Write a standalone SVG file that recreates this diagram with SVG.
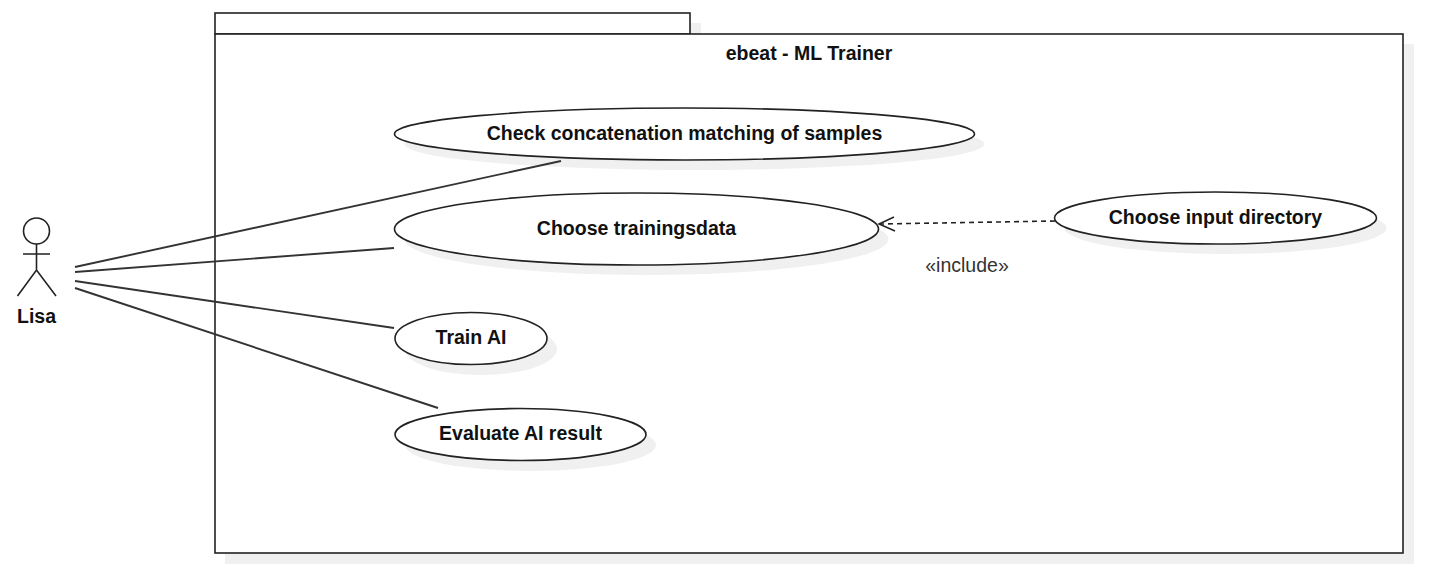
<svg xmlns="http://www.w3.org/2000/svg" width="1435" height="588" viewBox="0 0 1435 588">
<style>
.s{fill:#f0f0f0;stroke:none}
.b{fill:#fff;stroke:#222;stroke-width:1.6}
.l{font-family:"Liberation Sans",Arial,sans-serif;font-weight:700;font-size:19.5px;fill:#111;text-anchor:middle}
.c{fill:none;stroke:#333;stroke-width:1.9}
</style>
<rect width="1435" height="588" fill="#fff"/>
<g id="package">
<rect class="s" x="225" y="44" width="1189" height="520"/>
<rect class="s" x="225" y="23" width="476" height="21"/>
<rect class="b" x="215" y="13" width="475" height="21"/>
<rect class="b" x="215" y="34" width="1188" height="519"/>
<text class="l" x="809" y="60">ebeat - ML Trainer</text>
</g>
<g id="uc1">
<ellipse class="s" cx="694.500" cy="144" rx="290" ry="26"/>
<ellipse class="b" cx="684.500" cy="134" rx="290" ry="26"/>
<text class="l" x="684.500" y="140">Check concatenation matching of samples</text>
</g>
<g id="uc2">
<ellipse class="s" cx="646.500" cy="239" rx="242" ry="36"/>
<ellipse class="b" cx="636.500" cy="229" rx="242" ry="36"/>
<text class="l" x="636.500" y="235">Choose trainingsdata</text>
</g>
<g id="uc3">
<ellipse class="s" cx="1225.500" cy="228" rx="161" ry="26"/>
<ellipse class="b" cx="1215.500" cy="218" rx="161" ry="26"/>
<text class="l" x="1215.500" y="224">Choose input directory</text>
</g>
<g id="uc4">
<ellipse class="s" cx="481" cy="349" rx="76" ry="26"/>
<ellipse class="b" cx="471" cy="338.500" rx="76" ry="26"/>
<text class="l" x="471" y="344">Train AI</text>
</g>
<g id="uc5">
<ellipse class="s" cx="530.500" cy="445" rx="125.500" ry="26"/>
<ellipse class="b" cx="520.500" cy="434.500" rx="125.500" ry="26"/>
<text class="l" x="520.500" y="440">Evaluate AI result</text>
</g>
<g id="actor">
<circle cx="36.500" cy="231" r="13" fill="#fff" stroke="#222" stroke-width="1.6"/>
<path d="M36.500 244V270M23 254H50M17.500 296L36.500 270L56 296" fill="none" stroke="#222" stroke-width="1.6"/>
<text class="l" x="36.500" y="322.500">Lisa</text>
</g>
<g id="connectors">
<path class="c" d="M75 267L561 161"/>
<path class="c" d="M75 272L394 248"/>
<path class="c" d="M75 281L394 328"/>
<path class="c" d="M75 288L438 408"/>
<path d="M1055 221L880 224" fill="none" stroke="#222" stroke-width="1.6" stroke-dasharray="5 4"/>
<path d="M894 217L879 224L895 231" fill="none" stroke="#222" stroke-width="1.5"/>
<text x="967" y="271.500" font-family="'Liberation Sans',Arial,sans-serif" font-size="19.500" fill="#333" text-anchor="middle">«include»</text>
</g>
</svg>
